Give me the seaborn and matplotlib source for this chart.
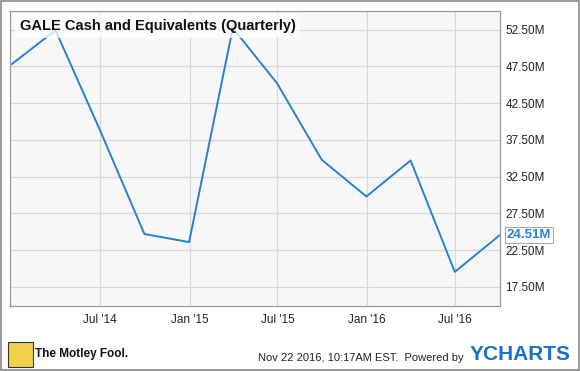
import pandas as pd
import matplotlib.pyplot as plt
import matplotlib.ticker as mticker
import seaborn as sns

# quarterly cash and equivalents, millions USD
quarters = ["2013-12-31", "2014-03-31", "2014-06-30", "2014-09-30", "2014-12-31",
            "2015-03-31", "2015-06-30", "2015-09-30", "2015-12-31", "2016-03-31",
            "2016-06-30", "2016-09-30"]
cash = [47.8, 52.4, 38.9, 24.7, 23.6, 52.7, 45.2, 34.8, 29.8, 34.7, 19.55, 24.51]

ytick_vals = [17.5, 22.5, 27.5, 32.5, 37.5, 42.5, 47.5, 52.5]
xtick_dates = ["2014-07-01", "2015-01-01", "2015-07-01", "2016-01-01", "2016-07-01"]
xtick_labels = ["Jul '14", "Jan '15", "Jul '15", "Jan '16", "Jul '16"]

df = pd.DataFrame({"date": pd.to_datetime(quarters), "cash": cash})

sns.set_style("white")
plt.rcParams["font.family"] = ["Liberation Sans", "DejaVu Sans"]

blue = "#2a80d2"

fig = plt.figure(figsize=(5.8, 3.71), dpi=100)
ax = fig.add_axes([0.017, 0.175, 0.845, 0.795])
ax.set_facecolor("#f7f7f7")

sns.lineplot(data=df, x="date", y="cash", ax=ax, color=blue, linewidth=1.4)

ax.set_ylim(14.9, 55.0)
ax.set_xlim(pd.Timestamp("2013-12-27"), pd.Timestamp("2016-10-01"))
ax.set_yticks(ytick_vals)
ax.yaxis.set_major_formatter(mticker.FuncFormatter(lambda v, p: f"{v:.2f}M"))
ax.yaxis.tick_right()
ax.set_xticks(pd.to_datetime(xtick_dates))
ax.set_xticklabels(xtick_labels)
ax.tick_params(axis="both", length=0, labelsize=8.5, labelcolor="#222222")
ax.tick_params(axis="y", pad=4)
ax.tick_params(axis="x", pad=6)
ax.grid(True, color="#d8d8d8", linewidth=0.9)
ax.set_axisbelow(True)
ax.set_xlabel("")
ax.set_ylabel("")
for s in ax.spines.values():
    s.set_color("#999999")
    s.set_linewidth(0.9)

ax.text(0.02, 0.95, "GALE Cash and Equivalents (Quarterly)", transform=ax.transAxes,
        fontsize=10.5, fontweight="bold", color="#111111", va="center", ha="left",
        bbox=dict(facecolor="white", edgecolor="none", alpha=0.75, pad=3.5))

# last value callout
ax.annotate(f"{cash[-1]:.2f}M", xy=(1.0, cash[-1]), xycoords=("axes fraction", "data"),
            xytext=(5, 0), textcoords="offset points", va="center", ha="left",
            fontsize=9.5, fontweight="bold", color=blue,
            bbox=dict(boxstyle="square,pad=0.15", facecolor="white", edgecolor="#aaaaaa", linewidth=0.8),
            annotation_clip=False)

# footer
logo = plt.Rectangle((8 / 580, 4 / 371), 25 / 580, 25 / 371, transform=fig.transFigure,
                     facecolor="#f2d04a", edgecolor="#333333", linewidth=0.8)
fig.patches.append(logo)
fig.text(35 / 580, 0.045, "The Motley Fool.", fontsize=8.5, fontweight="bold", color="#111111",
         va="center", ha="left")
fig.text(0.80, 0.035, "Nov 22 2016, 10:17AM EST.  Powered by", fontsize=8, color="#222222",
         va="center", ha="right")
fig.text(0.81, 0.045, "YCHARTS", fontsize=15, fontweight="bold", color="#1b6fc6",
         va="center", ha="left")

border = plt.Rectangle((0.001, 0.002), 0.997, 0.995, transform=fig.transFigure,
                       fill=False, edgecolor="#888888", linewidth=1.2)
fig.patches.append(border)

fig.savefig("out.png", dpi=100)
